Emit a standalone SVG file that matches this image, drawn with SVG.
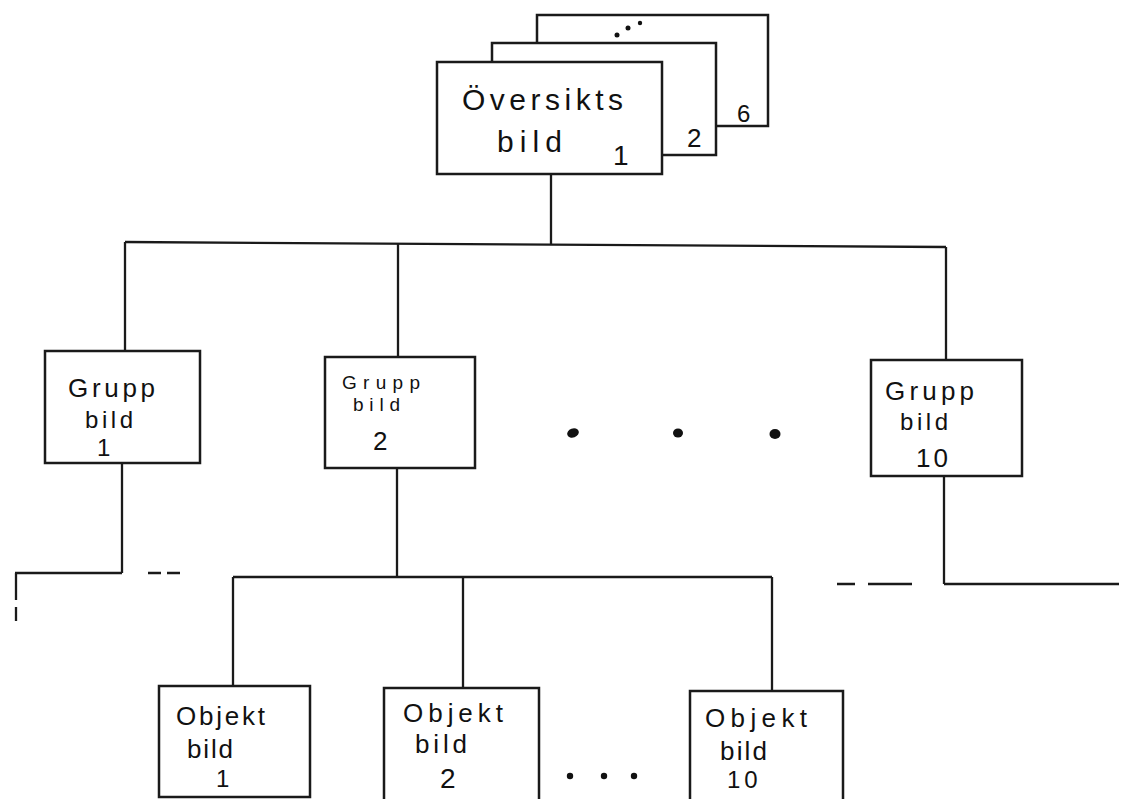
<svg xmlns="http://www.w3.org/2000/svg" width="1121" height="799" viewBox="0 0 1121 799">
<style>
.box{fill:#fff;stroke:#1a1a1a;stroke-width:2.5}
.ln{fill:none;stroke:#1a1a1a;stroke-width:2.3;stroke-linecap:butt}
.t{font-family:"Liberation Sans","DejaVu Sans",sans-serif;fill:#111;font-weight:normal}
.dot{fill:#111}
</style>
<rect width="1121" height="799" fill="#fff"/>
<g id="connectors">
<path class="ln" d="M551,174 V244"/>
<path class="ln" d="M125,242 L946,247"/>
<path class="ln" d="M125,242 V351"/>
<path class="ln" d="M398,243.5 V357"/>
<path class="ln" d="M946,247 V360"/>
<path class="ln" d="M122,463 V573"/>
<path class="ln" d="M15,573 H122"/>
<path class="ln" d="M148,573 H161 M167,573 H180"/>
<path class="ln" d="M16,573 V600 M16,607 V621"/>
<path class="ln" d="M397,468 V577"/>
<path class="ln" d="M233,577 H772"/>
<path class="ln" d="M233,577 V686 M463,577 V688 M772,577 V691"/>
<path class="ln" d="M944,476 V584 M944,584 H1119"/>
<path class="ln" d="M837,584 H855 M868,584 H912"/>
</g>
<g id="oversiktsbild">
<rect class="box" x="537" y="15" width="231" height="111"/>
<rect class="box" x="492" y="43" width="224" height="112"/>
<rect class="box" x="437" y="62" width="225" height="112"/>
<text class="t" x="462" y="110" font-size="30" textLength="161" lengthAdjust="spacing">Översikts</text>
<text class="t" x="497" y="152" font-size="30" textLength="65" lengthAdjust="spacing">bild</text>
<text class="t" x="613" y="165" font-size="28">1</text>
<text class="t" x="687" y="147" font-size="26">2</text>
<text class="t" x="737" y="122" font-size="24" font-weight="bold">6</text>
<circle class="dot" cx="617" cy="35" r="2.5"/>
<circle class="dot" cx="628" cy="28" r="2.5"/>
<circle class="dot" cx="640" cy="23" r="2.2"/>
</g>
<g id="gruppbild1">
<rect class="box" x="45" y="351" width="155" height="112"/>
<text class="t" x="68" y="397" font-size="26" textLength="87" lengthAdjust="spacing">Grupp</text>
<text class="t" x="85" y="428" font-size="24" textLength="48" lengthAdjust="spacing">bild</text>
<text class="t" x="97" y="456" font-size="24">1</text>
</g>
<g id="gruppbild2">
<rect class="box" x="325" y="357" width="150" height="111"/>
<text class="t" x="342" y="389" font-size="19" textLength="78" lengthAdjust="spacing">Grupp</text>
<text class="t" x="353" y="411" font-size="19" textLength="47" lengthAdjust="spacing">bild</text>
<text class="t" x="373" y="450" font-size="26">2</text>
</g>
<g id="dots-grupp">
<ellipse class="dot" cx="573" cy="433" rx="6" ry="4.5" transform="rotate(-20 573 433)"/>
<ellipse class="dot" cx="678" cy="433" rx="5" ry="4.5"/>
<ellipse class="dot" cx="775" cy="434" rx="5.5" ry="5"/>
</g>
<g id="gruppbild10">
<rect class="box" x="871" y="360" width="151" height="116"/>
<text class="t" x="885" y="400" font-size="26" textLength="89" lengthAdjust="spacing">Grupp</text>
<text class="t" x="900" y="430" font-size="24" textLength="48" lengthAdjust="spacing">bild</text>
<text class="t" x="916" y="467" font-size="26" letter-spacing="3">10</text>
</g>
<g id="objektbild1">
<rect class="box" x="159" y="686" width="151" height="111"/>
<text class="t" x="176" y="725" font-size="26" textLength="89" lengthAdjust="spacing">Objekt</text>
<text class="t" x="187" y="758" font-size="26" textLength="46" lengthAdjust="spacing">bild</text>
<text class="t" x="216" y="787" font-size="24">1</text>
</g>
<g id="objektbild2">
<rect class="box" x="384" y="688" width="155" height="115"/>
<text class="t" x="403" y="722" font-size="26" textLength="100" lengthAdjust="spacing">Objekt</text>
<text class="t" x="415" y="753" font-size="26" textLength="52" lengthAdjust="spacing">bild</text>
<text class="t" x="440" y="788" font-size="28">2</text>
</g>
<g id="dots-objekt">
<circle class="dot" cx="570" cy="776" r="3.2"/>
<circle class="dot" cx="604" cy="776" r="3.2"/>
<circle class="dot" cx="634" cy="776" r="3.2"/>
</g>
<g id="objektbild10">
<rect class="box" x="690" y="691" width="153" height="112"/>
<text class="t" x="705" y="727" font-size="26" textLength="102" lengthAdjust="spacing">Objekt</text>
<text class="t" x="720" y="760" font-size="26" textLength="47" lengthAdjust="spacing">bild</text>
<text class="t" x="727" y="788" font-size="24" letter-spacing="4">10</text>
</g>
</svg>
